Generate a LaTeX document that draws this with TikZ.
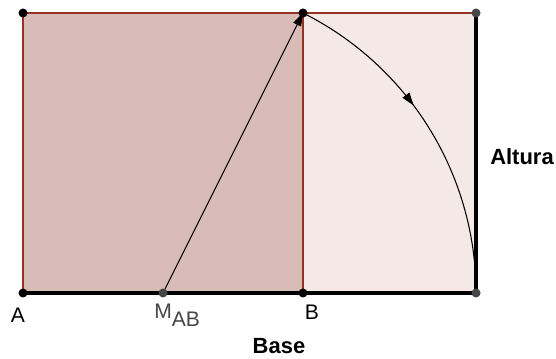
\documentclass[tikz,border=0pt]{standalone}
\usepackage{fontspec}
\setmainfont{Liberation Sans}
\usepackage{tikz}
\usetikzlibrary{arrows.meta, positioning, calc, decorations.markings}
\definecolor{squarefill}{RGB}{217,188,184}
\definecolor{rectfill}{RGB}{245,233,229}
\definecolor{edgered}{RGB}{150,50,35}
\definecolor{dotgray}{RGB}{70,70,70}

\begin{document}
\begin{tikzpicture}[
    >={Triangle[length=2.6mm, width=1.7mm]},
    every node/.style={font=\fontsize{12}{14}\selectfont},
    pt/.style={circle, fill=black, inner sep=0pt, minimum size=1.8mm},
    gpt/.style={pt, fill=dotgray},
    thickside/.style={line width=2.2pt, line cap=round},
    thinside/.style={draw=edgered, line width=0.8pt},
    bold/.style={font=\fontsize{12.5}{14}\selectfont\bfseries},
]
    \useasboundingbox (-0.46,-1.3) rectangle (10.66,5.86);

    % Corner points
    \coordinate (A) at (0,0);
    \coordinate (B) at (5.6,0);
    \coordinate (D) at (0,5.6);
    \coordinate (C) at (5.6,5.6);
    \coordinate (M) at (2.8,0);
    \coordinate (E) at (9.061,0);
    \coordinate (F) at (9.061,5.6);

    % Square on AB
    \fill[squarefill] (A) rectangle (C);
    % Golden extension
    \fill[rectfill] (B) rectangle (F);
    \draw[thinside] (A) -- (D) -- (F);
    \draw[thinside] (B) -- (C);

    % Base and height
    \draw[thickside] (A) -- (E);
    \draw[thickside] (E) -- (F);

    % Diagonal from midpoint
    \draw[->, line width=0.6pt] (M) -- (C);

    % Arc centered at M
    \draw[line width=0.6pt, decoration={markings, mark=at position 0.42 with {\arrow{>}}}, postaction={decorate}]
        (C) arc[start angle=63.43, end angle=0, radius=6.261];

    % Points
    \node[pt] (pA) at (A) {};
    \node[pt] (pB) at (B) {};
    \node[pt] (pD) at (D) {};
    \node[pt] (pC) at (C) {};
    \node[gpt] (pM) at (M) {};
    \node[gpt] (pE) at (E) {};
    \node[gpt] (pF) at (F) {};

    % Labels
    \node (lA) at (-0.1,-0.44) {A};
    \node (lB) at (5.78,-0.38) {B};
    \node[anchor=west, text=dotgray, inner sep=0pt] (lM) at (2.62,-0.44) {M\raisebox{-0.75ex}{AB}};
    \node[bold] (lBase) at (5.12,-1.06) {Base};
    \node[bold] (lAlt) at (9.98,2.72) {Altura};
\end{tikzpicture}
\end{document}
